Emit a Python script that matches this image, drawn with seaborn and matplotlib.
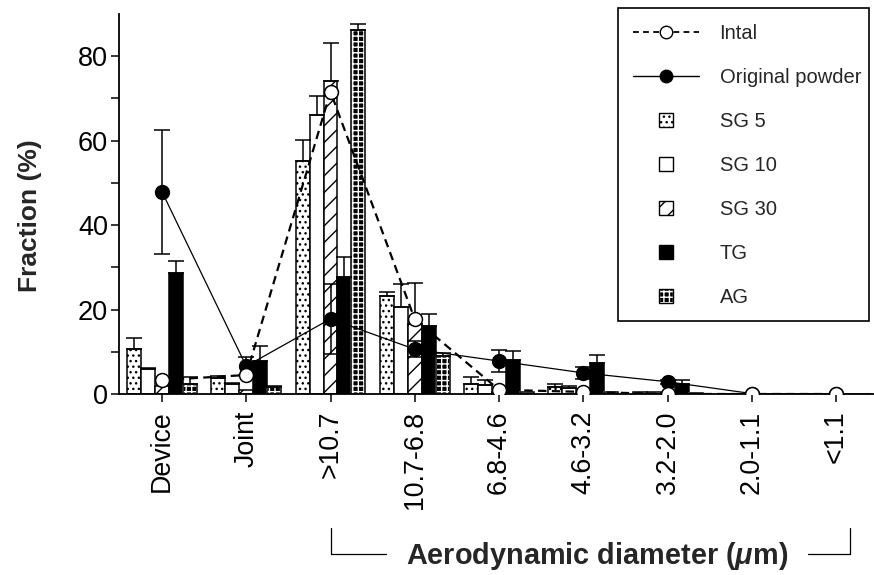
import numpy as np
import pandas as pd
import matplotlib
matplotlib.use("Agg")
import matplotlib.pyplot as plt
import matplotlib.transforms as mtransforms
from matplotlib.patches import Patch, Rectangle
from matplotlib.lines import Line2D
from matplotlib.legend_handler import HandlerPatch, HandlerTuple
import seaborn as sns

# Stage categories (aerodynamic diameter bands, µm)
categories = ["Device", "Joint", ">10.7", "10.7-6.8", "6.8-4.6",
              "4.6-3.2", "3.2-2.0", "2.0-1.1", "<1.1"]

# Deposition fractions (%) per formulation, with upper SD
sg5 = [10.6, 3.9, 55.1, 23.3, 2.3, 1.7, 0.4, 0.1, 0.1]
sg5_sd = [2.6, 0.3, 5.0, 0.9, 1.8, 0.6, 0.0, 0.0, 0.0]
sg10 = [5.9, 2.3, 66.0, 20.7, 2.1, 1.5, 0.5, 0.1, 0.1]
sg10_sd = [0.2, 0.3, 4.6, 5.3, 1.2, 0.3, 0.0, 0.0, 0.0]
sg30 = [2.0, 0.9, 74.1, 16.5, 0.5, 0.3, 0.2, 0.0, 0.0]
sg30_sd = [0.0, 0.0, 9.0, 9.7, 0.0, 0.0, 0.0, 0.0, 0.0]
tg = [28.6, 7.8, 27.8, 16.2, 8.0, 7.3, 2.3, 0.1, 0.1]
tg_sd = [3.0, 3.6, 4.7, 2.7, 2.2, 1.9, 1.0, 0.0, 0.0]
ag = [2.4, 1.7, 86.2, 9.0, 0.5, 0.4, 0.3, 0.1, 0.1]
ag_sd = [1.7, 0.3, 1.5, 0.6, 0.0, 0.0, 0.0, 0.0, 0.0]

# Reference products (%)
intal = [3.3, 4.5, 71.6, 17.7, 1.0, 0.5, 0.0, 0.0, 0.0]
original = [47.9, 6.6, 17.8, 10.6, 7.8, 5.0, 2.9, 0.1, 0.0]
original_sd = [14.7, 2.1, 8.3, 1.9, 2.6, 1.5, 0.5, 0.0, 0.0]

groups = ["SG 5", "SG 10", "SG 30", "TG", "AG"]
values = [sg5, sg10, sg30, tg, ag]
errors = [sg5_sd, sg10_sd, sg30_sd, tg_sd, ag_sd]
faces = {"SG 5": "white", "SG 10": "white", "SG 30": "white",
         "TG": "black", "AG": "black"}
# AG: black blocks separated by a white hatch grid
edges = {"SG 5": "black", "SG 10": "black", "SG 30": "black",
         "TG": "black", "AG": "white"}
hatches = {"SG 5": "...", "SG 10": "", "SG 30": "//", "TG": "", "AG": "+++"}

df = pd.DataFrame({
    "stage": np.tile(categories, len(groups)),
    "fraction": np.concatenate(values),
    "formulation": np.repeat(groups, len(categories)),
})

sns.set_theme(style="ticks")
plt.rcParams["font.family"] = ["Liberation Sans", "DejaVu Sans"]
plt.rcParams["hatch.linewidth"] = 1.0
plt.rcParams["mathtext.fontset"] = "custom"
plt.rcParams["mathtext.rm"] = "Liberation Sans:bold"
plt.rcParams["mathtext.it"] = "Liberation Sans:italic:bold"
plt.rcParams["mathtext.bf"] = "Liberation Sans:bold"

fig = plt.figure(figsize=(8.74, 5.75), dpi=100)
ax = fig.add_axes([119 / 874, 1 - 394 / 575, (874 - 119) / 874, 380 / 575])

sns.barplot(data=df, x="stage", y="fraction", hue="formulation",
            order=categories, hue_order=groups, palette=faces,
            edgecolor="black", linewidth=1.1, width=0.83, saturation=1,
            errorbar=None, legend=False, ax=ax, zorder=2)

# Hatch patterns and one-sided SD bars for each formulation
for name, cont, err in zip(groups, ax.containers, errors):
    xs, ys, es = [], [], []
    for bar, e in zip(cont, err):
        bar.set_hatch(hatches[name])
        bar.set_edgecolor(edges[name])
        if edges[name] != "black":
            # keep a black outline around the white-hatched bars
            ax.add_patch(Rectangle(bar.get_xy(), bar.get_width(),
                                   bar.get_height(), fill=False,
                                   edgecolor="black", linewidth=1.1,
                                   zorder=2.5))
        if e > 0:
            xs.append(bar.get_x() + bar.get_width() / 2)
            ys.append(bar.get_height())
            es.append(e)
    ax.errorbar(xs, ys, yerr=[np.zeros(len(es)), es], fmt="none",
                ecolor="black", elinewidth=1.1, capsize=6, capthick=1.1,
                zorder=3)

pos = np.arange(len(categories))

# Original powder: solid line, filled circles, two-sided SD
mask = np.array(original_sd) > 0
ax.errorbar(pos[mask], np.array(original)[mask],
            yerr=np.array(original_sd)[mask], fmt="none", ecolor="black",
            elinewidth=1.1, capsize=6, capthick=1.1, zorder=4)
sns.lineplot(x=pos, y=original, color="black", linewidth=0.9, marker="o",
             markersize=10, markerfacecolor="black", markeredgecolor="black",
             markeredgewidth=1, ax=ax, zorder=5, sort=False)

# Intal: dashed line, open circles
sns.lineplot(x=pos, y=intal, color="black", linewidth=1.6,
             linestyle=(0, (3.8, 2.4)), marker="o", markersize=10,
             markerfacecolor="white", markeredgecolor="black",
             markeredgewidth=1.1, ax=ax, zorder=6, sort=False)

ax.set_xlim(-0.51, 8.45)
ax.set_ylim(0, 90)
ax.set_yticks(np.arange(0, 81, 10))
ax.set_yticklabels(["0", "", "20", "", "40", "", "60", "", "80"])
ax.tick_params(axis="y", labelsize=19.5, length=5.5, width=1.1,
               direction="out", pad=2.5, colors="black")
ax.tick_params(axis="x", labelsize=19.3, length=5.5, width=1.1,
               direction="out", pad=6.5, colors="black", labelrotation=90)
for s in ("top", "right"):
    ax.spines[s].set_visible(False)
for s in ("left", "bottom"):
    ax.spines[s].set_linewidth(1.3)
    ax.spines[s].set_color("black")
ax.set_xlabel("")
ax.set_ylabel("Fraction (%)", fontsize=19, fontweight="bold")
ax.yaxis.set_label_coords(-0.102, 0.47)

# Bracket under the impactor stages with the axis title
tr = mtransforms.blended_transform_factory(ax.transData, ax.transAxes)
y_top, y_bot = -0.353, -0.421
ax.plot([2.0, 2.0, 2.66], [y_top, y_bot, y_bot], color="black", lw=0.9,
        transform=tr, clip_on=False)
ax.plot([7.67, 8.16, 8.16], [y_bot, y_bot, y_top], color="black", lw=0.9,
        transform=tr, clip_on=False)
ax.text(5.16, -0.426, r"Aerodynamic diameter ($\mu$m)", transform=tr,
        ha="center", va="center", fontsize=20.8, fontweight="bold")


def centered_square(legend, orig_handle, xdescent, ydescent, width, height,
                    fontsize):
    s = 0.72 * fontsize
    return Rectangle((-xdescent + width / 2 - s / 2,
                      -ydescent + height / 2 - s / 2), s, s)


handles = [
    Line2D([], [], color="black", lw=1.3, linestyle=(0, (3.2, 2.4)),
           marker="o", markersize=9, markerfacecolor="white",
           markeredgecolor="black"),
    Line2D([], [], color="black", lw=1.0, marker="o", markersize=9,
           markerfacecolor="black", markeredgecolor="black"),
]
for name in groups:
    face = Patch(facecolor=faces[name], edgecolor=edges[name],
                 hatch=hatches[name], linewidth=1.0)
    if edges[name] != "black":
        handles.append((face, Patch(fill=False, edgecolor="black",
                                    linewidth=1.0)))
    else:
        handles.append(face)
labels = ["Intal", "Original powder"] + groups

leg = fig.legend(handles, labels, loc="upper left",
                 bbox_to_anchor=(633 / 874, 1 - 24 / 575),
                 fontsize=14.5, frameon=False,
                 handlelength=3.3, handletextpad=1.0, labelspacing=1.24,
                 borderpad=0.0, borderaxespad=0.0,
                 handler_map={Patch: HandlerPatch(patch_func=centered_square),
                              tuple: HandlerTuple(ndivide=1, pad=0)})

# Legend box
fig.patches.append(Rectangle((618 / 874, 1 - 321 / 575), (869 - 618) / 874,
                             (321 - 8) / 575, transform=fig.transFigure,
                             fill=False, edgecolor="black", linewidth=1.2))

fig.savefig("out.png", dpi=100, facecolor="white")
